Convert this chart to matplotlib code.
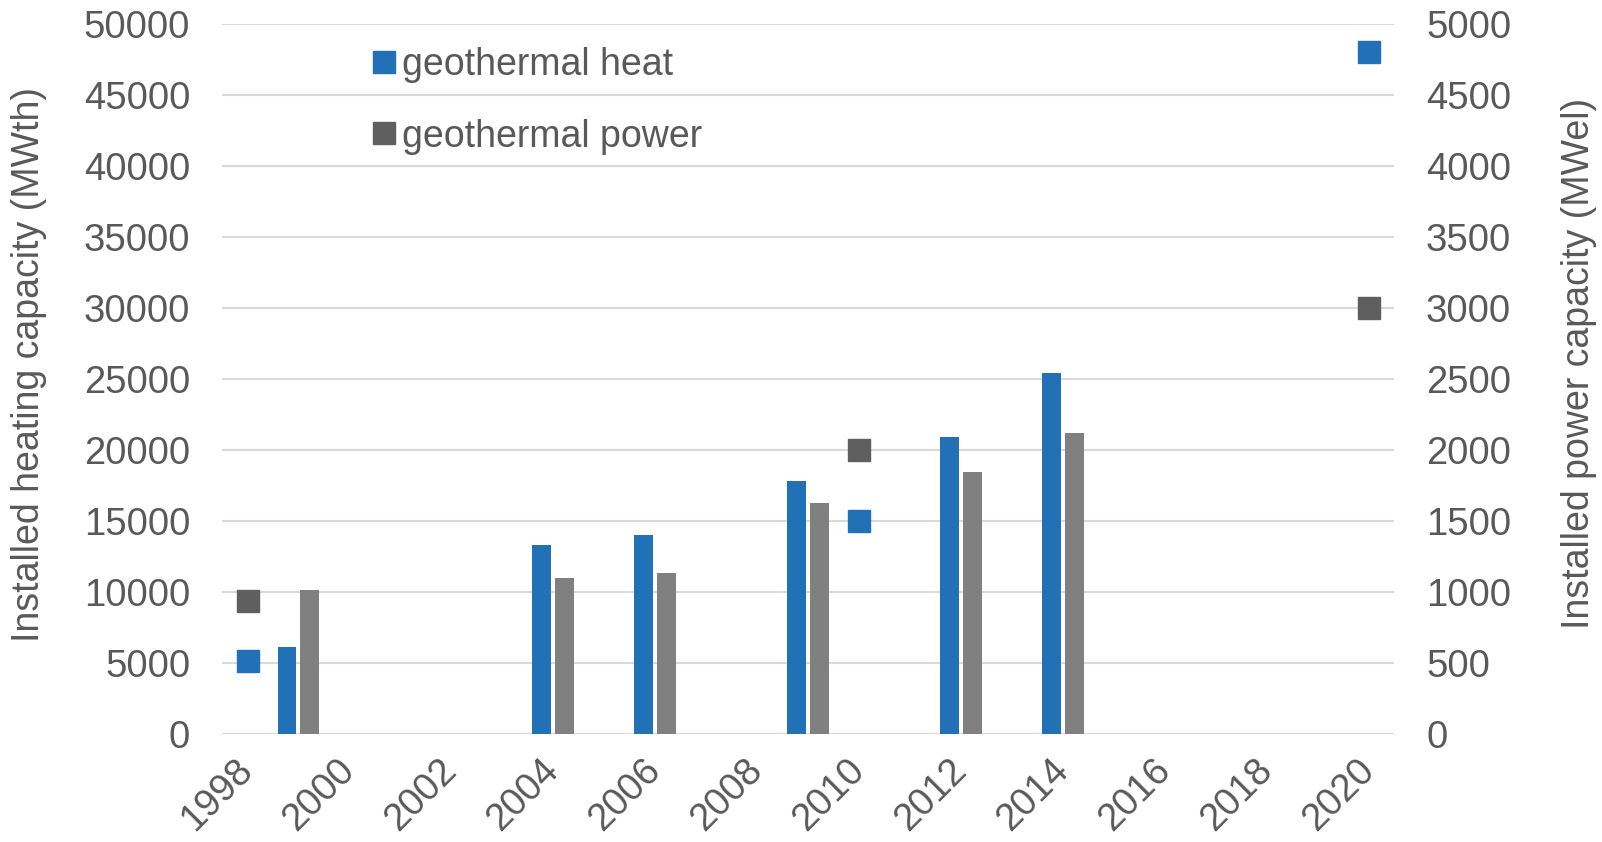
import matplotlib.pyplot as plt
from matplotlib.lines import Line2D

# bar series (survey years)
bar_years = [1999, 2004, 2006, 2009, 2012, 2014]
heat_bars = [6100, 13300, 14000, 17850, 20900, 25400]      # MWth
power_bars = [1014, 1099, 1135, 1627, 1845, 2122]           # MWel

# point series
point_years = [1998, 2010, 2020]
heat_points = [5130, 15000, 48000]      # MWth
power_points = [937, 2000, 3000]        # MWel

tick_years = list(range(1998, 2021, 2))

blue = "#2270B5"
bar_grey = "#808080"
dark_grey = "#5F5F5F"
text_grey = "#595959"
grid_grey = "#D9D9D9"

plt.rcParams["font.family"] = ["Liberation Sans", "DejaVu Sans"]

fig = plt.figure(figsize=(16.02, 8.42), dpi=100)
ax = fig.add_axes([0.1386, 0.1283, 0.7316, 0.8432])
ax2 = ax.twinx()

bw = 0.3725
off = 0.225
ax.bar([y - off for y in bar_years], heat_bars, width=bw, color=blue, zorder=3)
ax2.bar([y + off for y in bar_years], power_bars, width=bw, color=bar_grey, zorder=3)

ms = 16.5
ax.plot(point_years, heat_points, "s", color=blue, markersize=ms, zorder=4)
ax2.plot(point_years, power_points, "s", color=dark_grey, markersize=ms, zorder=4)

ax.set_xlim(1997.5, 2020.5)
ax.set_ylim(0, 50000)
ax2.set_ylim(0, 5000)
ax.set_yticks(range(0, 50001, 5000))
ax2.set_yticks(range(0, 5001, 500))
ax.set_xticks(tick_years)
ax.set_xticklabels([str(y) for y in tick_years], rotation=45, ha="right",
                   va="center", rotation_mode="anchor")

ax.yaxis.grid(True, color=grid_grey, linewidth=1.5, zorder=0)
ax.set_axisbelow(True)
for a in (ax, ax2):
    for s in a.spines.values():
        s.set_visible(False)
    a.tick_params(length=0, labelsize=27.5, colors=text_grey)
ax.tick_params(axis="x", pad=22)
ax.tick_params(axis="y", pad=23)
ax2.tick_params(axis="y", pad=23)
ax.axhline(0, color=grid_grey, linewidth=1.5, zorder=1)

fig.text(29 / 1602, 1 - 364 / 842, "Installed heating capacity (MWth)", rotation=90,
         ha="center", va="center", fontsize=27, color=text_grey)
fig.text(1579 / 1602, 1 - 363 / 842, "Installed power capacity (MWel)", rotation=90,
         ha="center", va="center", fontsize=27, color=text_grey)

handles = [Line2D([], [], marker="s", linestyle="", color=blue, markersize=16),
           Line2D([], [], marker="s", linestyle="", color=dark_grey, markersize=16)]
leg = ax2.legend(handles, ["geothermal heat", "geothermal power"], loc="upper left",
                 bbox_to_anchor=(0.104, 1.01), frameon=False, fontsize=27,
                 handlelength=0.55, handletextpad=0.2, labelspacing=0.95,
                 borderaxespad=0.4)
for t in leg.get_texts():
    t.set_color(text_grey)

fig.savefig("out.png", dpi=100)
